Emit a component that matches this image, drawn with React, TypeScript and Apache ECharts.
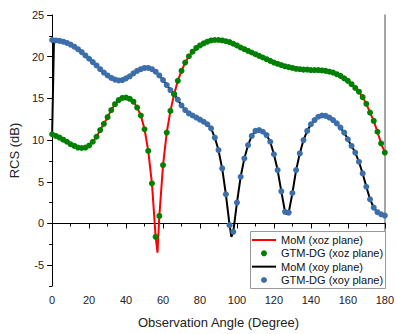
import React, { useEffect, useRef } from "react";
import * as echarts from "echarts";

// Observation angles (degree) sampled by GTM-DG
const gtmAngles = [
  0, 2, 4, 6, 8, 10, 12, 14, 16, 18,
  20, 22, 24, 26, 28, 30, 32, 34, 36, 38,
  40, 42, 44, 46, 48, 50, 52, 54, 56, 58,
  60, 62, 64, 66, 68, 70, 72, 74, 76, 78,
  80, 82, 84, 86, 88, 90, 92, 94, 96, 98,
  100, 102, 104, 106, 108, 110, 112, 114, 116, 118,
  120, 122, 124, 126, 128, 130, 132, 134, 136, 138,
  140, 142, 144, 146, 148, 150, 152, 154, 156, 158,
  160, 162, 164, 166, 168, 170, 172, 174, 176, 178,
  180,
];

// GTM-DG (xoz plane), RCS in dB
const gtmXoz = [
  10.7, 10.5, 10.3, 10.05, 9.8, 9.5, 9.3, 9.1, 9.05, 9.1,
  9.35, 9.8, 10.4, 11.2, 11.95, 12.75, 13.6, 14.3, 14.8, 15.05,
  15.1, 14.95, 14.6, 13.9, 12.95, 11.3, 8.7, 4.8, -1.6, 0.9,
  7.0, 10.9, 13.5, 15.5, 17.1, 18.3, 19.3, 20.05, 20.6, 21.05,
  21.35, 21.6, 21.8, 21.95, 22.0, 22.0, 21.95, 21.85, 21.75, 21.55,
  21.35, 21.1, 20.9, 20.7, 20.5, 20.3, 20.1, 19.9, 19.7, 19.5,
  19.3, 19.15, 19.0, 18.85, 18.75, 18.65, 18.55, 18.5, 18.45, 18.45,
  18.4, 18.4, 18.4, 18.35, 18.3, 18.2, 18.1, 17.9, 17.7, 17.4,
  17.1, 16.7, 16.25, 15.8, 15.15, 14.35, 13.3, 12.3, 11.0, 9.6,
  8.5,
];

// GTM-DG (xoy plane), RCS in dB
const gtmXoy = [
  22.0, 21.95, 21.9, 21.8, 21.65, 21.45, 21.2, 20.9, 20.55, 20.15,
  19.75, 19.35, 18.95, 18.5, 18.1, 17.75, 17.45, 17.25, 17.15, 17.2,
  17.4, 17.65, 18.0, 18.3, 18.5, 18.65, 18.65, 18.5, 18.2, 17.75,
  17.2, 16.6, 16.0, 15.5, 14.85, 14.15, 13.6, 13.2, 12.95, 12.7,
  12.45, 12.2, 11.9, 11.4, 10.3, 8.8, 6.6, 3.5, -0.2, -1.0,
  2.5, 5.6, 7.8, 9.4, 10.5, 11.1, 11.2, 11.0, 10.6, 9.8,
  8.3, 6.4, 3.85, 1.4, 1.3, 3.65, 6.4, 8.4, 10.0, 11.1,
  11.9, 12.4, 12.8, 12.95, 12.9, 12.7, 12.4, 12.0, 11.5, 10.9,
  10.1, 9.3, 8.5, 7.4, 6.0, 4.4, 2.9, 1.9, 1.35, 1.1,
  0.95,
];

// MoM readings that differ from the GTM-DG samples (dip minima, start)
const momXozExtraAngles = [57];
const momXozExtraValues = [-3.5];
const momXoyExtraAngles = [0, 1, 97, 127];
const momXoyExtraValues = [10.7, 22.0, -1.6, 1.1];

const legendNames = [
  "MoM (xoz plane)",
  "GTM-DG (xoz plane)",
  "MoM (xoy plane)",
  "GTM-DG (xoy plane)",
];

const yLabelTicks = [-5, 0, 5, 10, 15, 20, 25];
const yMinorTicks = [-7.5, -2.5, 2.5, 7.5, 12.5, 17.5, 22.5];

function mergeMom(angles: number[], values: number[], exA: number[], exV: number[]) {
  const m = new Map<number, number>();
  angles.forEach((a, i) => m.set(a, values[i]));
  exA.forEach((a, i) => m.set(a, exV[i]));
  return Array.from(m.entries()).sort((p, q) => p[0] - q[0]);
}

const FONT = "'Liberation Sans', Arial, sans-serif";

export default function App() {
  const ref = useRef<HTMLDivElement>(null);
  useEffect(() => {
    if (!ref.current) return;
    const chart = echarts.init(ref.current, undefined, { renderer: "svg" });
    const momXoz = mergeMom(gtmAngles, gtmXoz, momXozExtraAngles, momXozExtraValues);
    const momXoy = mergeMom(gtmAngles, gtmXoy, momXoyExtraAngles, momXoyExtraValues);
    const gXoz = gtmAngles.map((a, i) => [a, gtmXoz[i]]);
    const gXoy = gtmAngles.map((a, i) => [a, gtmXoy[i]]);
    const labelStyle = { fontFamily: FONT, fontSize: 11, color: "#222" };
    chart.setOption({
      animation: false,
      backgroundColor: "#fff",
      textStyle: { fontFamily: FONT },
      grid: { left: 49, right: 8, top: 15, bottom: 45 },
      graphic: [
        {
          type: "rect",
          shape: { x: 250.5, y: 231.5, width: 135, height: 57 },
          style: { fill: "#fff", stroke: "#999", lineWidth: 1 },
          z: 90,
        },
      ],
      legend: {
        orient: "vertical",
        left: 251,
        top: 234.5,
        itemWidth: 24,
        itemHeight: 6,
        itemGap: 2.33,
        padding: 0,
        z: 100,
        textStyle: { fontFamily: FONT, fontSize: 11, color: "#111", lineHeight: 11 },
        data: [
          { name: legendNames[0], itemStyle: { opacity: 0 } },
          { name: legendNames[1] },
          { name: legendNames[2], itemStyle: { opacity: 0 } },
          { name: legendNames[3] },
        ],
      },
      xAxis: [
        {
          type: "value",
          min: 0,
          max: 180,
          interval: 20,
          axisLine: { show: true, lineStyle: { color: "#000", width: 1 } },
          axisTick: { show: true, length: 5, lineStyle: { color: "#000" } },
          minorTick: { show: true, splitNumber: 2, length: 3, lineStyle: { color: "#000" } },
          splitLine: { show: false },
          axisLabel: { ...labelStyle, margin: 8 },
          name: "Observation Angle (Degree)",
          nameLocation: "middle",
          nameGap: 30,
          nameTextStyle: { fontFamily: FONT, fontSize: 13, color: "#222" },
        },
        {
          type: "value",
          position: "top",
          min: 0,
          max: 180,
          axisLine: { show: true, lineStyle: { color: "#000", width: 1 } },
          axisTick: { show: false },
          axisLabel: { show: false },
          splitLine: { show: false },
        },
      ],
      yAxis: [
        {
          type: "value",
          min: -7.5,
          max: 25,
          interval: 2.5,
          axisLine: { show: true, lineStyle: { color: "#000", width: 1 } },
          axisTick: { show: true, length: 5, customValues: yLabelTicks, lineStyle: { color: "#000" } },
          splitLine: { show: false },
          axisLabel: { ...labelStyle, margin: 8, customValues: yLabelTicks },
          name: "RCS (dB)",
          nameLocation: "middle",
          nameGap: 27,
          nameTextStyle: { fontFamily: FONT, fontSize: 13, color: "#222" },
        },
        {
          type: "value",
          position: "left",
          min: -7.5,
          max: 25,
          interval: 2.5,
          axisLine: { show: false },
          axisTick: { show: true, length: 3, customValues: yMinorTicks, lineStyle: { color: "#000" } },
          axisLabel: { show: false },
          splitLine: { show: false },
        },
        {
          type: "value",
          position: "right",
          min: -7.5,
          max: 25,
          interval: 2.5,
          axisLine: { show: true, lineStyle: { color: "#888", width: 1.5 } },
          axisTick: { show: false },
          axisLabel: { show: false },
          splitLine: { show: false },
        },
      ],
      series: [
        {
          name: "MoM (xoy plane)",
          type: "line",
          data: momXoy,
          symbol: "none",
          lineStyle: { color: "#000", width: 2 },
          itemStyle: { color: "#000" },
          z: 2,
        },
        {
          name: "GTM-DG (xoy plane)",
          type: "scatter",
          data: gXoy,
          symbol: "circle",
          symbolSize: 6,
          itemStyle: { color: "#3b6eaa", opacity: 1 },
          z: 3,
        },
        {
          name: "MoM (xoz plane)",
          type: "line",
          data: momXoz,
          symbol: "none",
          lineStyle: { color: "#ff0000", width: 2 },
          itemStyle: { color: "#ff0000" },
          z: 4,
        },
        {
          name: "GTM-DG (xoz plane)",
          type: "scatter",
          data: gXoz,
          symbol: "circle",
          symbolSize: 6,
          itemStyle: { color: "#008000", opacity: 1 },
          z: 5,
        },
      ],
    });
    return () => chart.dispose();
  }, []);
  return (
    <div
      ref={ref}
      style={{ position: "fixed", left: 0, top: 0, width: 397, height: 334 }}
    />
  );
}
